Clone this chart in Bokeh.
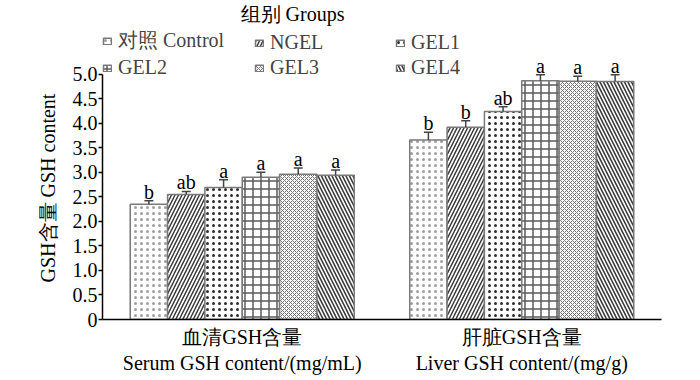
from bokeh.plotting import figure
from bokeh.models import (FactorRange, Range1d, ColumnDataSource, Legend, LegendItem,
                          Label, CustomJSTickFormatter, FixedTicker, Title)
from bokeh.transform import dodge
from bokeh.core.properties import value
from bokeh.embed import file_html
from bokeh.resources import INLINE

groups = ["血清GSH含量\nSerum GSH content/(mg/mL)", "肝脏GSH含量\nLiver GSH content/(mg/g)"]
subgroups = ["对照 Control", "NGEL", "GEL1", "GEL2", "GEL3", "GEL4"]
serum = [2.35, 2.55, 2.69, 2.90, 2.96, 2.94]
serum_err = [0.07, 0.06, 0.16, 0.10, 0.13, 0.11]
liver = [3.66, 3.92, 4.24, 4.87, 4.86, 4.85]
liver_err = [0.16, 0.13, 0.10, 0.12, 0.10, 0.14]
serum_sig = ["b", "ab", "a", "a", "a", "a"]
liver_sig = ["b", "b", "ab", "a", "a", "a"]
yticks = [0, 0.5, 1.0, 1.5, 2.0, 2.5, 3.0, 3.5, 4.0, 4.5, 5.0]
y_title = "GSH含量  GSH content"
legend_title = "组别 Groups"

# styles
patterns = [".", "/", ".", "+", "x", "\\"]
hcolors = ["#a0a0a0", "#3a3a3a", "#2e2e2e", "#5a5a5a", "#707070", "#3a3a3a"]
hscales = [6, 7, 6, 8, 4, 7]
hweights = [1, 1.5, 2, 1.5, 1, 1.6]
legend_cols = [[0, 3], [1, 4], [2, 5]]
legend_x = [0, 152, 293]

FONT = "Liberation Serif"
FS = "20px"
BAR_W = 0.1336
ERR_C = "#444444"

p = figure(width=692, height=376, output_backend="svg", toolbar_location=None,
           x_range=FactorRange(factors=groups, range_padding=0, range_padding_units="absolute"),
           y_range=Range1d(0, 6.504),
           min_border_left=102, min_border_right=31, min_border_top=0, min_border_bottom=56)
p.outline_line_color = None
p.grid.grid_line_color = None
p.background_fill_color = "white"

renderers = []
for i, s in enumerate(subgroups):
    tops = [serum[i], liver[i]]
    errs = [serum_err[i], liver_err[i]]
    src = ColumnDataSource(dict(
        g=groups,
        top=tops,
        upper=[t + e for t, e in zip(tops, errs)],
        sig=[serum_sig[i], liver_sig[i]],
    ))
    xs = dodge("g", (i - 2.5) * BAR_W, range=p.x_range)
    r = p.vbar(x=xs, top="top", width=BAR_W, source=src, fill_color="white",
               line_color="#7a7a7a", line_width=1.5,
               hatch_pattern=patterns[i], hatch_color=hcolors[i],
               hatch_scale=hscales[i], hatch_weight=hweights[i])
    renderers.append(r)
    p.segment(x0=xs, y0="top", x1=xs, y1="upper", source=src,
              line_color=ERR_C, line_width=1.5)
    p.scatter(x=xs, y="upper", source=src, marker="dash", size=9,
              line_color=ERR_C, line_width=1.5)
    p.text(x=xs, y="upper", text="sig", source=src, text_align="center",
           text_baseline="alphabetic", y_offset=-9, text_font=value(FONT),
           text_font_size=FS, text_color="black")

for col, lx in zip(legend_cols, legend_x):
    lg = Legend(items=[LegendItem(label=subgroups[k], renderers=[renderers[k]]) for k in col],
                location=(lx, 240), orientation="vertical",
                background_fill_alpha=0, border_line_color=None,
                padding=0, margin=0, spacing=2, label_standoff=6,
                glyph_width=10, glyph_height=8,
                label_text_font=FONT, label_text_font_size=FS)
    p.add_layout(lg, "center")

p.add_layout(Label(x=190, y=306, x_units="screen", y_units="screen", text=legend_title,
                   text_align="center", text_baseline="middle",
                   text_font=FONT, text_font_size=FS, text_color="black"))

ya = p.yaxis[0]
ya.ticker = FixedTicker(ticks=yticks)
ya.formatter = CustomJSTickFormatter(code="return tick == 0 ? '0' : tick.toFixed(1);")
ya.bounds = (0, 5)
ya.axis_line_width = 1.5
ya.axis_line_color = "black"
ya.major_tick_in = 0
ya.major_tick_out = 4
ya.major_tick_line_width = 1.5
ya.minor_tick_line_color = None
ya.major_label_text_font = FONT
ya.major_label_text_font_size = FS
ya.major_label_text_color = "black"
ya.major_label_standoff = 1

p.add_layout(Title(text=y_title, align="left", offset=37, standoff=21,
                   text_font=FONT, text_font_size=FS, text_font_style="normal",
                   text_color="black"), "left")

xa = p.xaxis[0]
xa.axis_line_width = 1.5
xa.axis_line_color = "black"
xa.major_tick_in = 0
xa.major_tick_out = 0
xa.major_tick_line_color = None
xa.minor_tick_line_color = None
xa.major_label_standoff = 6
xa.major_label_text_font = FONT
xa.major_label_text_font_size = FS
xa.major_label_text_color = "black"

open("out.html", "w").write(file_html(p, INLINE))
